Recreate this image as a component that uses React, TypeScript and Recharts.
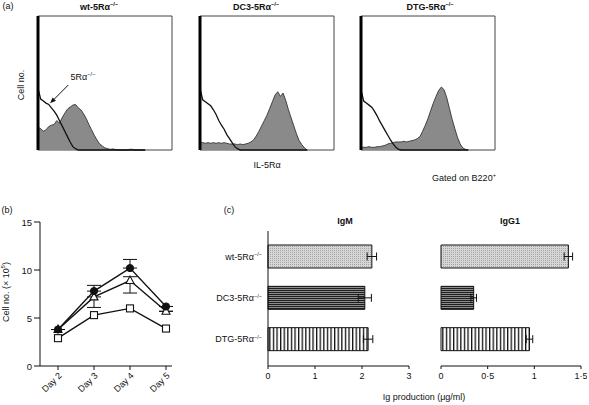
import React from "react";
import {
  ComposedChart,
  Area,
  Line,
  LineChart,
  BarChart,
  Bar,
  Cell,
  XAxis,
  YAxis,
  ErrorBar,
  ReferenceArea,
  ReferenceLine,
} from "recharts";

const FONT = "'Liberation Sans', Arial, Helvetica, sans-serif";
const INK = "#111";

// (a) flow histograms, fluorescence channel (0-100) vs relative cell number
const channels = [
  0, 2, 4, 6, 8, 10, 12, 14, 16, 18, 20, 22, 24, 26, 28, 30, 32, 34, 36, 38, 40,
  42, 44, 46, 48, 50, 52, 54, 56, 58, 60, 62, 64, 66, 68, 70, 72, 74, 76, 78, 80,
];
const wtStained = [
  17, 16, 14, 15, 17.5, 18.5, 19, 22, 20, 24, 27.5, 30.5, 32, 33.5, 34, 31.5, 30, 27, 23.5, 19, 15,
  11, 7.5, 4.5, 3, 1.5, 1, 0.5, 0.8, 0.3, 0, 0, 0, 0, 0.4, 0.6, 0, 0, 0, 0, 0,
];
const wtControl = [
  46, 38, 36.5, 35, 34, 31.5, 29, 26, 22, 18, 14, 10, 6, 2.5, 1, 0, 0, 0, 0, 0, 0,
  0, 0, 0, 0, 0, 0, 0, 0, 0, 0, 0, 0, 0, 0, 0, 0, 0, 0, 0, 0,
];
const dc3Stained = [
  6, 5.5, 5, 5.5, 5, 5.5, 5, 5.5, 5, 5.5, 5, 4.5, 4.5, 4.5, 4, 4.5, 4, 4.5, 5, 6, 7.5,
  10.5, 14, 18, 22, 26, 31, 36, 41, 43.5, 40, 42.5, 37, 30, 24, 18, 12, 7, 4, 1.5, 0,
];
const dc3Control = [
  46, 37.5, 36, 34.5, 33, 30, 26.5, 22, 18.5, 15.5, 11.5, 8.5, 5.5, 2.5, 1, 0, 0, 0, 0, 0, 0,
  0, 0, 0, 0, 0, 0, 0, 0, 0, 0, 0, 0, 0, 0, 0, 0, 0, 0, 0, 0,
];
const dtgStained = [
  2.5, 2, 2, 2.5, 2, 2, 2.5, 2.5, 3, 3.5, 4.5, 5, 5.5, 6, 6, 6, 6.5, 6, 6.5, 7, 7.5,
  8.5, 10, 14, 18.5, 23.5, 29.5, 35, 40, 44.5, 47, 45, 39, 31, 23, 16, 9.5, 4.5, 1.5, 0.5, 0,
];
const dtgControl = [
  45, 36.5, 35, 33.5, 32, 29, 25.5, 21.5, 18, 14.5, 11, 7.5, 4.5, 2, 0.5, 0, 0, 0, 0, 0, 0,
  0, 0, 0, 0, 0, 0, 0, 0, 0, 0, 0, 0, 0, 0, 0, 0, 0, 0, 0, 0,
];

// (b) cell numbers (x 10^5) over time
const days = ["Day 2", "Day 3", "Day 4", "Day 5"];
const circleCells = [3.8, 7.8, 10.2, 6.2];
const circleErr = [[0, 0], [0, 0.6], [0, 0.9], [0, 0]];
const triangleCells = [3.8, 7.2, 8.9, 5.7];
const triangleErr = [[0, 0], [1.1, 0], [1.3, 0.4], [0, 0]];
const squareCells = [2.9, 5.3, 6.0, 3.9];
const cellTicks = [0, 5, 10, 15];

// (c) Ig production (ug/ml)
const strains = ["wt-5Rα", "DC3-5Rα", "DTG-5Rα"];
const igM = [2.21, 2.06, 2.13];
const igMErr = [0.1, 0.14, 0.1];
const igG1 = [1.365, 0.35, 0.948];
const igG1Err = [0.045, 0.03, 0.035];
const igMTicks = [0, 1, 2, 3];
const igG1Ticks = [0, 0.5, 1, 1.5];
const barPatterns = ["patStipple", "patHoriz", "patVert"];

// panel (b) frame
const CELL_TOP = 212;
const CELL_MARGIN_TOP = 10;
const CELL_PLOT_H = 144;
const CELL_AXIS_X = 40;

const Sup = ({ children }: { children: React.ReactNode }) => (
  <span style={{ fontSize: "0.62em", verticalAlign: "0.55em", lineHeight: 0 }}>{children}</span>
);

function T({
  x,
  y,
  children,
  size = 9,
  bold = false,
  rotate = 0,
}: {
  x: number;
  y: number;
  children: React.ReactNode;
  size?: number;
  bold?: boolean;
  rotate?: number;
}) {
  return (
    <div
      style={{
        position: "absolute",
        left: x,
        top: y,
        transform: `translate(-50%, -50%) rotate(${rotate}deg)`,
        fontSize: size,
        fontWeight: bold ? 700 : 400,
        lineHeight: 1,
        whiteSpace: "nowrap",
        color: INK,
      }}
    >
      {children}
    </div>
  );
}

const ArrowShape = (p: any) => {
  const { x1, y1, x2, y2 } = p;
  const a = Math.atan2(y2 - y1, x2 - x1);
  const len = 6;
  const half = 2.4;
  const bx = x2 - len * Math.cos(a);
  const by = y2 - len * Math.sin(a);
  const pts = `${x2},${y2} ${bx - half * Math.sin(a)},${by + half * Math.cos(a)} ${bx + half * Math.sin(a)},${by - half * Math.cos(a)}`;
  return (
    <g>
      <line x1={x1} y1={y1} x2={bx} y2={by} stroke={INK} strokeWidth={1} />
      <polygon points={pts} fill={INK} />
    </g>
  );
};

function Histogram({
  stained,
  control,
  left,
  arrow = false,
}: {
  stained: number[];
  control: number[];
  left: number;
  arrow?: boolean;
}) {
  const data = channels.map((ch, i) => ({ ch, stained: stained[i], control: control[i] }));
  return (
    <div style={{ position: "absolute", left, top: 13 }}>
      <ComposedChart width={140} height={140} data={data} margin={{ top: 3, right: 3, bottom: 3, left: 3 }}>
        <XAxis dataKey="ch" type="number" domain={[0, 100]} height={0} tick={false} tickLine={false} axisLine={{ stroke: "#333" }} />
        <YAxis type="number" domain={[0, 100]} width={0} tick={false} tickLine={false} axisLine={false} />
        <ReferenceArea x1={0} x2={100} y1={0} y2={100} fill="none" stroke="#444" strokeWidth={1} />
        <Area
          type="linear"
          dataKey="stained"
          fill="#8a8a8a"
          fillOpacity={1}
          stroke="#333"
          strokeWidth={0.9}
          isAnimationActive={false}
        />
        <Line type="linear" dataKey="control" stroke={INK} strokeWidth={1.3} dot={false} isAnimationActive={false} />
        <ReferenceLine segment={[{ x: 0, y: 0 }, { x: 0, y: 100 }]} stroke="#000" strokeWidth={3} />
        {arrow && (
          <ReferenceLine
            segment={[{ x: 22.6, y: 48.5 }, { x: 9, y: 34.8 }]}
            stroke={INK}
            shape={ArrowShape}
          />
        )}
      </ComposedChart>
    </div>
  );
}

const CircleDot = (p: any) => <circle key={`c${p.index}`} cx={p.cx} cy={p.cy} r={3.6} fill={INK} stroke={INK} />;
const SquareDot = (p: any) => (
  <rect key={`s${p.index}`} x={p.cx - 3.5} y={p.cy - 3.5} width={7} height={7} fill="#fff" stroke={INK} strokeWidth={1.1} />
);
const TriangleDot = (p: any) => (
  <polygon
    key={`t${p.index}`}
    points={`${p.cx},${p.cy - 4.5} ${p.cx - 4},${p.cy + 3} ${p.cx + 4},${p.cy + 3}`}
    fill="#fff"
    stroke={INK}
    strokeWidth={1.1}
  />
);

const DayTick = (p: any) => (
  <text
    x={p.x}
    y={p.y}
    transform={`rotate(-45 ${p.x} ${p.y})`}
    textAnchor="end"
    dy={6}
    fontSize={9}
    fill={INK}
  >
    {p.payload.value}
  </text>
);

function CellChart() {
  const data = days.map((day, i) => ({
    day,
    circle: circleCells[i],
    circleErr: circleErr[i],
    triangle: triangleCells[i],
    triangleErr: triangleErr[i],
    square: squareCells[i],
  }));
  const yMax = cellTicks[cellTicks.length - 1];
  return (
    <div style={{ position: "absolute", left: 0, top: CELL_TOP }}>
      <LineChart
        width={185}
        height={CELL_MARGIN_TOP + CELL_PLOT_H + 36}
        data={data}
        margin={{ top: CELL_MARGIN_TOP, right: 13, bottom: 0, left: 0 }}
      >
        <XAxis
          dataKey="day"
          padding={{ left: 18, right: 6 }}
          height={36}
          tickSize={4}
          interval={0}
          axisLine={{ stroke: INK }}
          tickLine={{ stroke: INK }}
          tick={DayTick}
        />
        <YAxis
          type="number"
          domain={[0, yMax]}
          ticks={cellTicks}
          width={CELL_AXIS_X}
          tick={false}
          tickLine={false}
          axisLine={{ stroke: INK }}
        />
        <Line dataKey="square" stroke={INK} strokeWidth={1.4} dot={SquareDot} isAnimationActive={false} />
        <Line dataKey="triangle" stroke={INK} strokeWidth={1.4} dot={TriangleDot} isAnimationActive={false}>
          <ErrorBar dataKey="triangleErr" direction="y" width={7} stroke={INK} strokeWidth={1} />
        </Line>
        <Line dataKey="circle" stroke={INK} strokeWidth={1.4} dot={CircleDot} isAnimationActive={false}>
          <ErrorBar dataKey="circleErr" direction="y" width={7} stroke={INK} strokeWidth={1} />
        </Line>
      </LineChart>
    </div>
  );
}

// value labels and tick marks of the (b) y axis, laid over everything else
function CellTicks() {
  const yMax = cellTicks[cellTicks.length - 1];
  const toY = (v: number) => CELL_TOP + CELL_MARGIN_TOP + CELL_PLOT_H * (1 - v / yMax);
  return (
    <svg
      width={CELL_AXIS_X}
      height={180}
      style={{ position: "absolute", left: 0, top: CELL_TOP, zIndex: 5, overflow: "visible" }}
    >
      {cellTicks.map((v) => {
        const y = toY(v) - CELL_TOP;
        return (
          <g key={v}>
            <line x1={CELL_AXIS_X - 6} y1={y} x2={CELL_AXIS_X} y2={y} stroke={INK} strokeWidth={1} />
            <text x={CELL_AXIS_X - 8} y={y + 3.5} textAnchor="end" fontSize={9.5} fill={INK} fontFamily={FONT}>
              {v}
            </text>
          </g>
        );
      })}
    </svg>
  );
}

const StrainTick = (p: any) => (
  <text x={p.x} y={p.y} dy={3} textAnchor="end" fontSize={9} fill={INK}>
    {p.payload.value}
    <tspan fontSize={5.5} dy={-3.5}>
      −/−
    </tspan>
  </text>
);

const dotDecimal = (v: number) => String(v).replace(".", "·");

function IgChart({
  values,
  errors,
  ticks,
  left,
  width,
  labelWidth,
}: {
  values: number[];
  errors: number[];
  ticks: number[];
  left: number;
  width: number;
  labelWidth: number;
}) {
  const data = strains.map((strain, i) => ({ strain, value: values[i], err: errors[i] }));
  const labels = labelWidth > 10;
  return (
    <div style={{ position: "absolute", left, top: 226 }}>
      <BarChart
        layout="vertical"
        width={width}
        height={160}
        data={data}
        margin={{ top: 5, right: 6, bottom: 0, left: labels ? 0 : 6 }}
      >
        <XAxis
          type="number"
          domain={[ticks[0], ticks[ticks.length - 1]]}
          ticks={ticks}
          interval={0}
          height={20}
          tickSize={3}
          tickMargin={4}
          tickFormatter={dotDecimal}
          axisLine={{ stroke: INK }}
          tickLine={{ stroke: INK }}
          tick={{ fontSize: 9, fill: INK }}
        />
        <YAxis
          type="category"
          dataKey="strain"
          width={labelWidth}
          tickSize={4}
          tickLine={false}
          tick={labels ? StrainTick : false}
          axisLine={{ stroke: INK }}
          padding={{ top: 5, bottom: 6 }}
        />
        <Bar dataKey="value" barSize={23} stroke={INK} strokeWidth={1} isAnimationActive={false}>
          {data.map((_, i) => (
            <Cell key={i} fill={`url(#${barPatterns[i]})`} />
          ))}
          <ErrorBar dataKey="err" direction="x" width={4} stroke={INK} strokeWidth={1} />
        </Bar>
      </BarChart>
    </div>
  );
}

export default function App() {
  return (
    <div
      style={{
        position: "absolute",
        left: 0,
        top: 0,
        width: 589,
        height: 405,
        background: "#fff",
        overflow: "hidden",
        fontFamily: FONT,
        color: INK,
      }}
    >
      <svg width={0} height={0} style={{ position: "absolute" }}>
        <defs>
          <pattern id="patStipple" width={2} height={2} patternUnits="userSpaceOnUse">
            <rect width={2} height={2} fill="#d6d6d6" />
            <rect width={1} height={1} fill="#a6a6a6" />
          </pattern>
          <pattern id="patHoriz" width={4} height={2} patternUnits="userSpaceOnUse">
            <rect width={4} height={2} fill="#8c8c8c" />
            <rect width={4} height={1} fill="#1e1e1e" />
          </pattern>
          <pattern id="patVert" width={3.6} height={4} patternUnits="userSpaceOnUse">
            <rect width={3.6} height={4} fill="#fff" />
            <rect width={1.3} height={4} fill="#111" />
          </pattern>
        </defs>
      </svg>

      {/* (a) */}
      <T x={8} y={6}>(a)</T>
      <T x={99} y={7} bold>
        wt-5Rα<Sup>−/−</Sup>
      </T>
      <T x={256} y={7} bold>
        DC3-5Rα<Sup>−/−</Sup>
      </T>
      <T x={430} y={7} bold>
        DTG-5Rα<Sup>−/−</Sup>
      </T>
      <T x={21} y={85} rotate={-90}>
        Cell no.
      </T>
      <Histogram stained={wtStained} control={wtControl} left={35} arrow />
      <Histogram stained={dc3Stained} control={dc3Control} left={197} />
      <Histogram stained={dtgStained} control={dtgControl} left={358} />
      <T x={83} y={77}>
        5Rα<Sup>−/−</Sup>
      </T>
      <T x={267} y={165}>
        IL-5Rα
      </T>
      <T x={464} y={178}>
        Gated on B220<Sup>+</Sup>
      </T>

      {/* (b) */}
      <T x={7} y={210}>(b)</T>
      <T x={6} y={292} rotate={-90}>
        Cell no. (× 10<Sup>5</Sup>)
      </T>
      <CellChart />

      {/* (c) */}
      <T x={229} y={210}>(c)</T>
      <T x={345} y={221} bold>
        IgM
      </T>
      <T x={510} y={221} bold>
        IgG1
      </T>
      <IgChart values={igM} errors={igMErr} ticks={igMTicks} left={208} width={207} labelWidth={60} />
      <IgChart values={igG1} errors={igG1Err} ticks={igG1Ticks} left={435} width={152} labelWidth={0} />
      <T x={424} y={397}>
        Ig production (μg/ml)
      </T>

      <CellTicks />
    </div>
  );
}
